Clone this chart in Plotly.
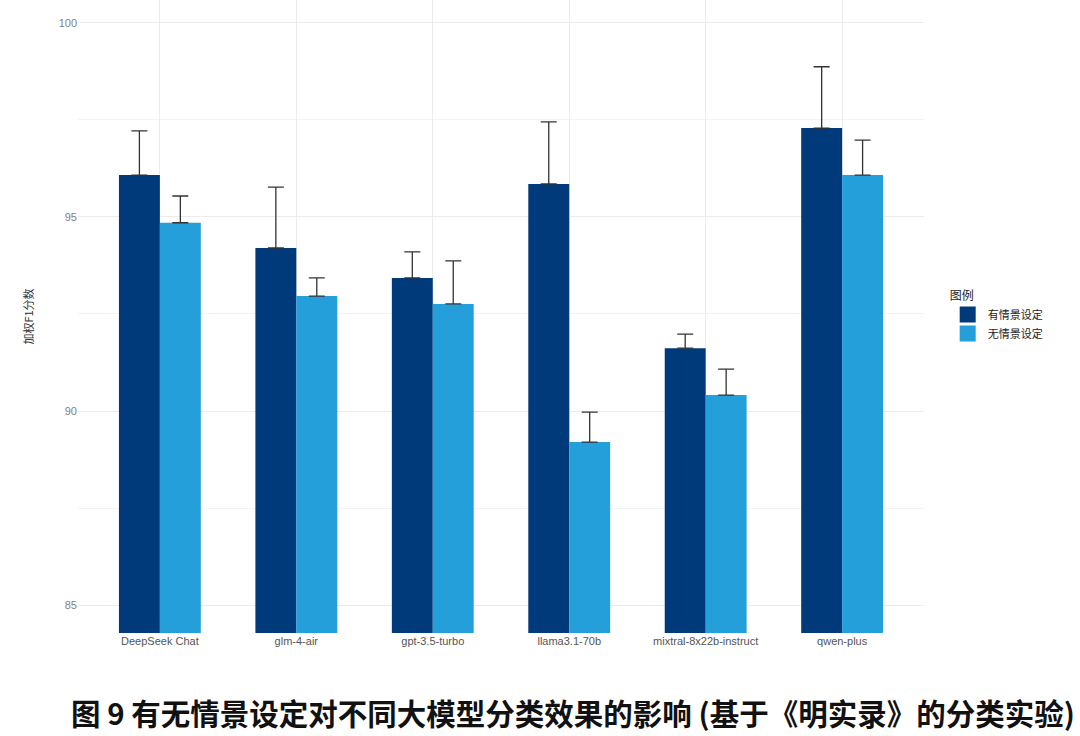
import plotly.graph_objects as go

models = ["DeepSeek Chat", "glm-4-air", "gpt-3.5-turbo", "llama3.1-70b", "mixtral-8x22b-instruct", "qwen-plus"]
with_scene = [96.08, 94.20, 93.43, 95.85, 91.62, 97.29]
with_scene_err = [1.14, 1.57, 0.67, 1.60, 0.36, 1.58]
no_scene = [94.85, 92.96, 92.76, 89.20, 90.41, 96.08]
no_scene_err = [0.69, 0.47, 1.11, 0.77, 0.67, 0.90]

dark = "#003A7A"
light = "#249FDA"

fig = go.Figure()
for name, vals, errs, col in [("有情景设定", with_scene, with_scene_err, dark),
                              ("无情景设定", no_scene, no_scene_err, light)]:
    fig.add_trace(go.Bar(
        x=models, y=vals, name=name, showlegend=False,
        marker=dict(color=col, line=dict(width=0)),
        error_y=dict(type="data", symmetric=False, array=errs, arrayminus=[0] * len(errs),
                     color="#333333", thickness=1.3, width=8),
    ))
    # legend swatch only (bigger squares like ggplot keys)
    fig.add_trace(go.Scatter(
        x=[None], y=[None], name=name, mode="markers",
        marker=dict(symbol="square", size=16, color=col),
    ))

fig.update_layout(
    barmode="group", bargap=0.4, bargroupgap=0,
    width=1080, height=736,
    paper_bgcolor="white", plot_bgcolor="white",
    font=dict(family="Noto Sans CJK SC, Liberation Sans, sans-serif", color="#444444"),
    margin=dict(l=78, r=156, t=0, b=103),
    legend=dict(title=dict(text="图例", font=dict(size=12, color="#222222")),
                x=1.028, y=0.5, xanchor="left", yanchor="middle",
                font=dict(size=11, color="#222222"), traceorder="normal",
                itemwidth=30, tracegroupgap=0),
    showlegend=True,
)
fig.update_xaxes(showgrid=True, gridcolor="#EBEBEB", gridwidth=1, zeroline=False,
                 tickfont=dict(size=11, color="#555555", family="Liberation Sans, Arial, sans-serif"),
                 ticks="", showline=False, range=[-0.6, 5.6])
fig.update_yaxes(range=[84.28, 100.59], showgrid=True, gridcolor="#EBEBEB", gridwidth=1,
                 tickvals=[85, 90, 95, 100],
                 tickfont=dict(size=11, color="#7F7F7F", family="Liberation Sans, Arial, sans-serif"),
                 minor=dict(tickvals=[87.5, 92.5, 97.5], showgrid=True, gridcolor="#F3F3F3"),
                 zeroline=False, ticks="", showline=False,
                 title=dict(text="加权F1分数", font=dict(size=11, color="#333333"), standoff=22))

fig.add_annotation(
    text="<b>图 9 有无情景设定对不同大模型分类效果的影响 (基于《明实录》的分类实验)</b>",
    xref="paper", yref="paper", x=0.585, y=-0.125, xanchor="center", yanchor="middle",
    showarrow=False,
    font=dict(size=29.5, color="#111111", family="Noto Sans CJK SC, sans-serif"),
)

fig.write_html("out.html", config={"displayModeBar": False},
               post_script="document.body.style.margin='0';")
